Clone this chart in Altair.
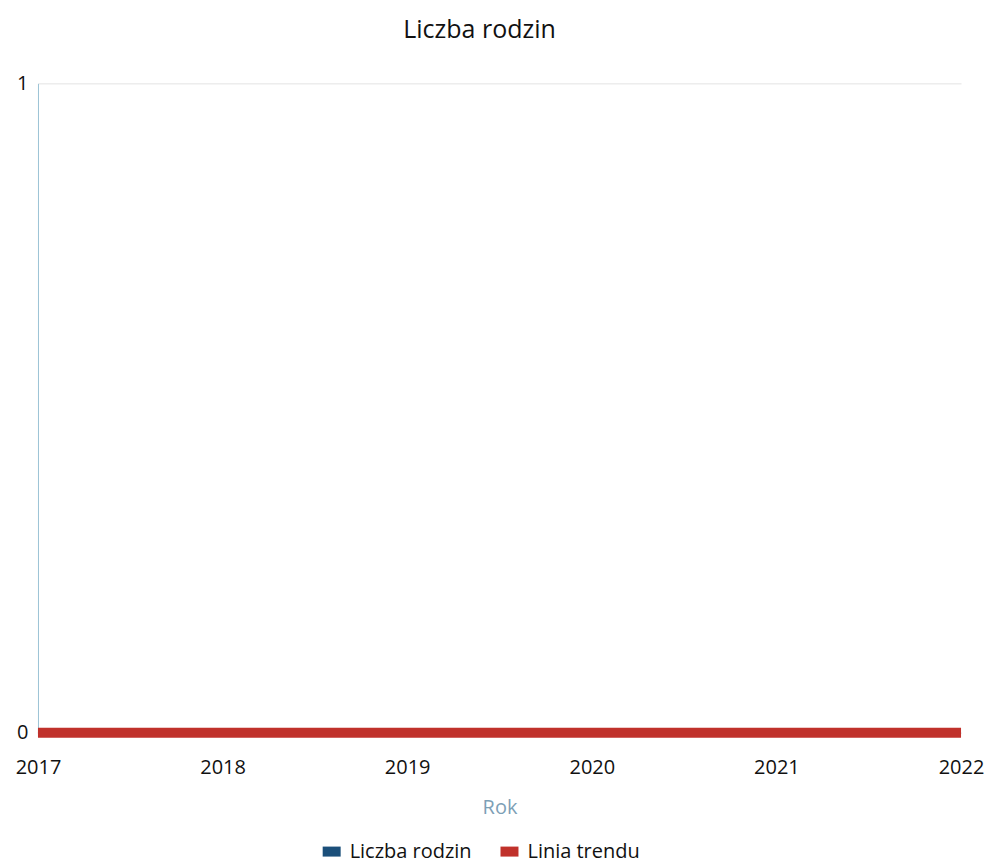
import altair as alt
import pandas as pd

years = [2017, 2018, 2019, 2020, 2021, 2022]
liczba_rodzin = [0, 0, 0, 0, 0, 0]
linia_trendu = [0, 0, 0, 0, 0, 0]
series_names = ["Liczba rodzin", "Linia trendu"]
series_colors = ["#1b4f7a", "#c0312b"]

rows = []
for y, v in zip(years, liczba_rodzin):
    rows.append({"Rok": y, "Wartość": v, "Seria": series_names[0]})
for y, v in zip(years, linia_trendu):
    rows.append({"Rok": y, "Wartość": v, "Seria": series_names[1]})
df = pd.DataFrame(rows)

FONT = "Open Sans"

color = alt.Color(
    "Seria:N",
    scale=alt.Scale(domain=series_names, range=series_colors),
    legend=alt.Legend(
        title=None, orient="none", direction="horizontal",
        legendX=280, legendY=755,
        symbolType="M-1,0H1", symbolSize=324, symbolStrokeWidth=10,
        labelFontSize=20, labelColor="#111111", labelFont=FONT,
        columnPadding=8, labelOffset=4,
    ),
)

x = alt.X(
    "Rok:Q",
    scale=alt.Scale(domain=[2017, 2022], nice=False, zero=False),
    axis=alt.Axis(
        values=years, format="d", title="Rok", titleColor="#7d9fb6",
        titleFontSize=20, titleFontWeight="normal", titleFont=FONT,
        titlePadding=20, labelFontSize=20, labelColor="#111111", labelFont=FONT,
        labelPadding=25, domain=False, ticks=False, grid=False,
        labelFlush=False,
    ),
)
y = alt.Y(
    "Wartość:Q",
    scale=alt.Scale(domain=[0, 1], nice=False),
    axis=alt.Axis(
        values=[0, 1], format="d", title=None, labelFontSize=20, labelColor="#111111",
        labelFont=FONT, labelPadding=10, domain=True, domainColor="#9cc3d5",
        ticks=False, grid=True, gridColor="#e3e3e3",
    ),
)

base = alt.Chart(df).encode(x=x, y=y, color=color)

line_lr = base.transform_filter(alt.datum.Seria == "Liczba rodzin").mark_line(strokeWidth=3)
line_tr = base.transform_filter(alt.datum.Seria == "Linia trendu").mark_line(strokeWidth=10)

chart = alt.layer(line_lr, line_tr).properties(
    width=924, height=650,
    padding={"left": 7, "top": 10, "right": 5, "bottom": 5},
    background="white",
    title=alt.TitleParams("Liczba rodzin", fontSize=25, fontWeight="normal",
                          font=FONT, color="#111111", offset=30,
                          anchor="middle", dx=-20),
).configure_view(stroke=None)

chart.save("out.html", embed_options={"renderer": "svg", "actions": False})
